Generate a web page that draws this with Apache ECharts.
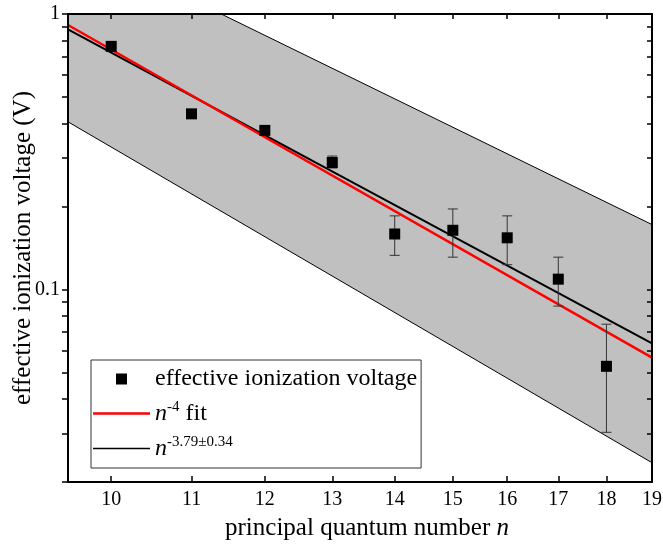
<!DOCTYPE html>
<html><head><meta charset="utf-8">
<script src="https://cdn.jsdelivr.net/npm/echarts@6/dist/echarts.min.js"></script>
<style>html,body{margin:0;padding:0;background:#fff}#c{width:663px;height:548px}</style>
</head><body><div id="c"></div>
<script>
// Measured data
const nValues  = [10, 11, 12, 13, 14, 15, 16, 17, 18];
const voltage  = [0.763, 0.434, 0.378, 0.289, 0.159, 0.164, 0.154, 0.109, 0.0526];
const errLow   = [0.755, 0.428, 0.372, 0.276, 0.133, 0.131, 0.123, 0.087, 0.0303];
const errHigh  = [0.771, 0.440, 0.384, 0.305, 0.185, 0.196, 0.185, 0.131, 0.0748];
// line end points (n = 9.5 and n = 19)
const lineN     = [9.5, 19];
const fitN4     = [0.912, 0.0566];
const fitFree   = [0.880, 0.0637];
const bandUpper = [1.87, 0.172];
const bandLower = [0.406, 0.0235];
// ticks
const xTickLabels = [10, 11, 12, 13, 14, 15, 16, 17, 18, 19];
const yMajorTicks = [0.1, 1];
const yAllTicks = [0.02, 0.03, 0.04, 0.05, 0.06, 0.07, 0.08, 0.09, 0.1, 0.2, 0.3, 0.4, 0.5, 0.6, 0.7, 0.8, 0.9, 1];

const FONT = 'Liberation Serif';
const pairs = (xs, ys) => xs.map((x, i) => [x, ys[i]]);

const chart = echarts.init(document.getElementById('c'));
const axisLine = {show: true, lineStyle: {color: '#000', width: 2}};

chart.setOption({
  animation: false,
  backgroundColor: '#fff',
  grid: {left: 68, right: 11, top: 14, bottom: 66, containLabel: false, outerBoundsMode: 'none'},
  xAxis: [{
    type: 'log', logBase: 10, min: 9.5, max: 19, position: 'bottom', z: 10,
    axisLine: axisLine, splitLine: {show: false},
    axisTick: {show: true, inside: true, length: 6, customValues: xTickLabels, lineStyle: {color: '#000', width: 1.5}},
    axisLabel: {customValues: xTickLabels, fontFamily: FONT, fontSize: 20, color: '#000', margin: 8, formatter: v => String(Math.round(v))},
    name: 'principal quantum number {it|n}', nameLocation: 'middle', nameGap: 34,
    nameTextStyle: {fontFamily: FONT, fontSize: 25, color: '#000', padding: [0, 0, 0, 14],
      rich: {it: {fontFamily: FONT, fontSize: 25, fontStyle: 'italic'}}}
  }, {
    type: 'log', logBase: 10, min: 9.5, max: 19, position: 'top', z: 10,
    axisLine: axisLine, splitLine: {show: false},
    axisTick: {show: true, inside: true, length: 5, customValues: xTickLabels, lineStyle: {color: '#000', width: 1.5}},
    axisLabel: {show: false}
  }],
  yAxis: [{
    type: 'log', logBase: 10, min: 0.02, max: 1, position: 'left', z: 10,
    axisLine: axisLine, splitLine: {show: false}, minorTick: {show: false},
    axisTick: {show: true, inside: false, length: 6, customValues: yAllTicks, lineStyle: {color: '#000', width: 1.5}},
    axisLabel: {customValues: yMajorTicks, fontFamily: FONT, fontSize: 20, color: '#000', margin: 8, formatter: v => String(v)},
    name: 'effective ionization voltage (V)', nameLocation: 'middle', nameGap: 32, nameMoveOverlap: false,
    nameTextStyle: {fontFamily: FONT, fontSize: 25, color: '#000'}
  }, {
    type: 'log', logBase: 10, min: 0.02, max: 1, position: 'right', z: 10,
    axisLine: axisLine, splitLine: {show: false},
    axisTick: {show: true, inside: true, length: 5, customValues: yAllTicks, lineStyle: {color: '#000', width: 1.5}},
    axisLabel: {show: false}
  }],
  legend: {
    orient: 'vertical', left: 91, top: 360,
    data: [
      {name: 'voltage', icon: 'path://M0,0L10,0L10,10L0,10Z'},
      {name: 'fit4', icon: 'path://M0,0H57V2.6H0Z'},
      {name: 'fitFree', icon: 'path://M0,0H57V1.4H0Z'}
    ],
    itemWidth: 57, itemHeight: 11, itemGap: 8,
    padding: [6, 4, 6, 2],
    borderColor: '#333', borderWidth: 1, backgroundColor: '#fff',
    selectedMode: false,
    textStyle: {
      fontFamily: FONT, fontSize: 24, color: '#000', lineHeight: 26,
      rich: {
        it: {fontFamily: FONT, fontSize: 24, fontStyle: 'italic', lineHeight: 26},
        sup: {fontFamily: FONT, fontSize: 15, lineHeight: 26, padding: [0, 0, 12, 0]},
        t: {fontFamily: FONT, fontSize: 24, lineHeight: 26}
      }
    },
    formatter: name => {
      if (name === 'voltage') return 'effective ionization voltage';
      if (name === 'fit4') return '{it|n}{sup|-4}{t| fit}';
      return '{it|n}{sup|-3.79±0.34}';
    }
  },
  series: [
    {
      name: 'bandUpper', type: 'line', data: pairs(lineN, bandUpper), symbol: 'none',
      lineStyle: {color: '#000', width: 1}, areaStyle: {color: '#c0c0c0', opacity: 1, origin: 'start'},
      z: 1, silent: true
    },
    {
      name: 'bandLower', type: 'line', data: pairs(lineN, bandLower), symbol: 'none',
      lineStyle: {color: '#000', width: 1}, areaStyle: {color: '#ffffff', opacity: 1, origin: 'start'},
      z: 1, silent: true
    },
    {
      name: 'fitFree', type: 'line', data: pairs(lineN, fitFree), symbol: 'none',
      lineStyle: {color: '#000', width: 2}, itemStyle: {color: '#000'}, z: 3
    },
    {
      name: 'fit4', type: 'line', data: pairs(lineN, fitN4), symbol: 'none',
      lineStyle: {color: '#ff0000', width: 2.5}, itemStyle: {color: '#ff0000'}, z: 4
    },
    {
      name: 'errors', type: 'custom', z: 5,
      data: nValues.map((n, i) => [n, errLow[i], errHigh[i]]),
      renderItem: (params, api) => {
        const lo = api.coord([api.value(0), api.value(1)]);
        const hi = api.coord([api.value(0), api.value(2)]);
        const w = 5;
        const st = {stroke: '#333', lineWidth: 1};
        return {type: 'group', children: [
          {type: 'line', shape: {x1: lo[0], y1: lo[1], x2: hi[0], y2: hi[1]}, style: st},
          {type: 'line', shape: {x1: lo[0] - w, y1: lo[1], x2: lo[0] + w, y2: lo[1]}, style: st},
          {type: 'line', shape: {x1: hi[0] - w, y1: hi[1], x2: hi[0] + w, y2: hi[1]}, style: st}
        ]};
      }
    },
    {
      name: 'voltage', type: 'scatter', data: pairs(nValues, voltage),
      symbol: 'rect', symbolSize: 11, itemStyle: {color: '#000', opacity: 1}, z: 6
    }
  ]
});
</script>
</body></html>
